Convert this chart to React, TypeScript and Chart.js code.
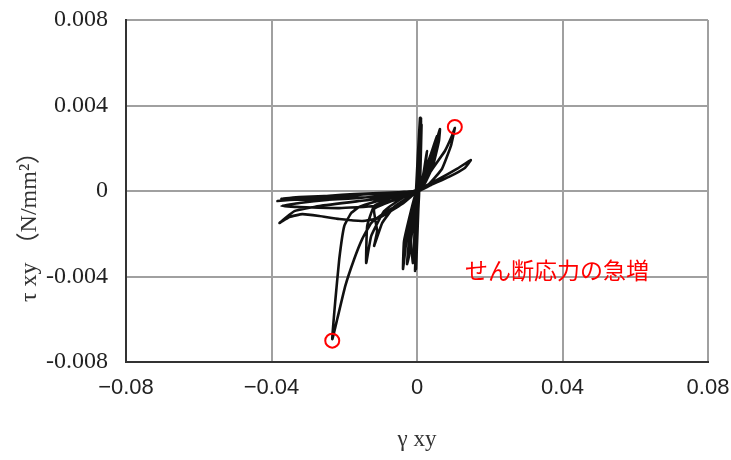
import { useEffect, useRef } from "react";
import { Chart, registerables } from "chart.js";

Chart.register(...registerables);

// Hysteresis trace (γxy, τxy in N/mm²)
const gammaXY = [
  0, 0.00027, 0, -0.00027, 0, 0.00055, 0.00027, -0.00055, 0, 0.00082,
  0.00055, -0.00082, -0.00027, 0.00082, 0.00082, 0.00027, -0.0011, -0.00164, -0.00055, 0.00164,
  0.00274, 0.00192, 0, -0.00219, -0.00274, -0.00192, 0.00055, 0.00329, 0.00493, 0.0063,
  0.00603, 0.00438, 0.00219, -0.00055, -0.00356, -0.00384, -0.00274, 0, 0.00384, 0.00767,
  0.00959, 0.01041, 0.00932, 0.00685, 0.00329, -0.00219, -0.00767, -0.01178, -0.0137, -0.01397,
  -0.0126, -0.00904, -0.00356, 0.00055, 0.00603, 0.01096, 0.01479, 0.01315, 0.00877, 0.00384,
  -0.00082, -0.0063, -0.01178, -0.01589, -0.01808, -0.02, -0.02137, -0.02247, -0.02329, -0.02192,
  -0.01973, -0.01726, -0.01507, -0.0126, -0.00904, -0.00493, -0.00082, -0.00493, -0.01315, -0.02137,
  -0.02959, -0.03507, -0.03836, -0.03233, -0.02411, -0.01726, -0.01041, -0.00356, 0, -0.0063,
  -0.01589, -0.02685, -0.0337, -0.03781, -0.03507, -0.03151, -0.02685, -0.02137, -0.01507, -0.01041,
  -0.00411, 0, -0.00493, -0.01863, -0.03233, -0.03726, -0.03233, -0.02137, -0.01178, -0.00356,
  0, 0.00082, 0.00055, -0.00027, 0.00027, 0.0011, 0.00055, -0.00055, 0,
  -0.0063, -0.01178, -0.01096, -0.01178, -0.00959, -0.0063, -0.00219, 0,
  -0.00767, -0.01863, -0.03233, -0.03726, -0.02685, -0.01589, -0.00493, 0,
  0.00219, 0.00411, 0.00548, 0.00493, 0.00329, 0.00055,
  0.0011, 0.0008, 0.00125, 0.0005, 0.0009, 0.0003,
];
const tauXY = [
  0, 0.0014, -0.0001, -0.00117, 0, 0.00234, -0.00023, -0.00211, 0, 0.00304,
  -0.00023, -0.00281, 0, 0.00342, 0.0014, -0.00047, -0.00337, -0.00234, -0.00023, 0.0007,
  0.00187, 0.0007, -0.0001, -0.00304, -0.00342, -0.00187, 0.00009, 0.00117, 0.00211, 0.0029,
  0.00234, 0.00117, 0.00037, -0.00023, -0.00234, -0.00365, -0.00211, -0.0001, 0.00094, 0.00187,
  0.00257, 0.00295, 0.00211, 0.00103, 0.00033, -0.0001, -0.00037, -0.0007, -0.00164, -0.00337,
  -0.00211, -0.00094, -0.00028, 0.00009, 0.00056, 0.00103, 0.00145, 0.00108, 0.00066, 0.00028,
  -0.0001, -0.00028, -0.00051, -0.00075, -0.00103, -0.00164, -0.00318, -0.00515, -0.00693, -0.00599,
  -0.00445, -0.00318, -0.00225, -0.0015, -0.00103, -0.00061, -0.00014, -0.00019, -0.00014, -0.00028,
  -0.00037, -0.00042, -0.00047, -0.00037, -0.00023, -0.00014, -0.0001, -0.00005, 0, -0.00028,
  -0.00047, -0.0007, -0.00094, -0.0015, -0.00122, -0.00108, -0.00117, -0.00131, -0.0014, -0.00126,
  -0.00061, 0, -0.00023, -0.00033, -0.00056, -0.0007, -0.00075, -0.0008, -0.0007, -0.00028,
  0, 0.00342, 0, -0.00365, -0.00047, 0.00328, -0.00023, -0.00374, 0,
  -0.00042, -0.00084, -0.00187, -0.00257, -0.0015, -0.00075, -0.00028, 0,
  -0.0001, -0.00019, -0.00028, -0.00037, -0.00042, -0.00033, -0.00014, 0,
  0.00094, 0.00187, 0.00257, 0.00197, 0.00094, 0.00009,
  0.0034, 0.0001, 0.0031, -0.0002, 0.0026, -0.0001,
];

// Marked points (red circles)
const peakGamma = [0.0104, -0.0233];
const peakTau = [0.003, -0.0070];

const xTickValues = [-0.08, -0.04, 0, 0.04, 0.08];
const xTickLabels = ["\u22120.08", "\u22120.04", "0", "0.04", "0.08"];
const yTickValues = [-0.008, -0.004, 0, 0.004, 0.008];
const yTickLabels = ["-0.008", "-0.004", "0", "0.004", "0.008"];

const xTitle = "γ xy";
const yTitle = "τ xy （N/mm²）";
const noteText = "せん断応力の急増";
const noteGamma = 0.0385;
const noteTau = -0.0037;

function zeroPad(s: any) {
  s.paddingTop = 0;
  s.paddingBottom = 0;
  s.paddingLeft = 0;
  s.paddingRight = 0;
}

export default function App() {
  const ref = useRef<HTMLCanvasElement | null>(null);

  useEffect(() => {
    if (!ref.current) return;
    const trace = gammaXY.map((g, i) => ({ x: g, y: tauXY[i] }));
    const peaks = peakGamma.map((g, i) => ({ x: g, y: peakTau[i] }));

    const overlay = {
      id: "overlay",
      afterDraw(chart: any) {
        const ctx = chart.ctx;
        const xs = chart.scales.x;
        const ys = chart.scales.y;
        ctx.save();
        ctx.fillStyle = "#ff0000";
        ctx.font = '23px "Noto Sans CJK JP"';
        ctx.textAlign = "center";
        ctx.textBaseline = "middle";
        ctx.fillText(noteText, xs.getPixelForValue(noteGamma), ys.getPixelForValue(noteTau));
        ctx.fillStyle = "#333";
        ctx.font = '23px "Liberation Serif", "Noto Sans CJK JP"';
        ctx.fillText(xTitle, (chart.chartArea.left + chart.chartArea.right) / 2, 440);
        ctx.font = '24px "Liberation Serif", "Noto Sans CJK JP"';
        ctx.translate(30, 221);
        ctx.rotate(-Math.PI / 2);
        ctx.fillText(yTitle, 0, 0);
        ctx.restore();
      },
    };

    const chart = new Chart(ref.current, {
      type: "scatter",
      data: {
        datasets: [
          {
            data: peaks,
            showLine: false,
            pointStyle: "circle",
            pointRadius: 7,
            pointBorderColor: "#ff0000",
            pointBackgroundColor: "rgba(0,0,0,0)",
            pointBorderWidth: 2,
            order: 0,
          },
          {
            data: trace,
            showLine: true,
            borderColor: "#111",
            borderWidth: 2.6,
            pointRadius: 0,
            tension: 0.12,
            fill: false,
            order: 1,
          },
        ],
      },
      plugins: [overlay],
      options: {
        animation: false,
        responsive: true,
        maintainAspectRatio: false,
        layout: { padding: { top: 20, right: 23, bottom: 0, left: 0 } },
        plugins: { legend: { display: false }, tooltip: { enabled: false } },
        scales: {
          x: {
            type: "linear",
            min: -0.08,
            max: 0.08,
            afterFit: (s: any) => {
              s.height = 98;
              zeroPad(s);
            },
            afterBuildTicks: (s: any) => {
              s.ticks = xTickValues.map((v) => ({ value: v }));
            },
            ticks: {
              padding: 13,
              color: "#222",
              font: { family: '"Liberation Sans"', size: 22 },
              callback: (v: any) => {
                const i = xTickValues.findIndex((t) => Math.abs(t - v) < 1e-9);
                return i >= 0 ? xTickLabels[i] : "";
              },
            },
            grid: { color: "#a0a0a0", lineWidth: 2, drawTicks: false },
            border: { color: "#333", width: 2 },
          },
          y: {
            type: "linear",
            min: -0.008,
            max: 0.008,
            afterFit: (s: any) => {
              s.width = 126;
              zeroPad(s);
            },
            afterBuildTicks: (s: any) => {
              s.ticks = yTickValues.map((v) => ({ value: v }));
            },
            ticks: {
              padding: 18,
              color: "#222",
              font: { family: '"Liberation Serif"', size: 24 },
              callback: (v: any) => {
                const i = yTickValues.findIndex((t) => Math.abs(t - v) < 1e-9);
                return i >= 0 ? yTickLabels[i] : "";
              },
            },
            grid: { color: "#a0a0a0", lineWidth: 2, drawTicks: false },
            border: { color: "#333", width: 2 },
          },
        },
      },
    });
    return () => chart.destroy();
  }, []);

  return (
    <div style={{ position: "fixed", left: 0, top: 0, width: 731, height: 460, background: "#fff" }}>
      <canvas ref={ref} />
    </div>
  );
}
